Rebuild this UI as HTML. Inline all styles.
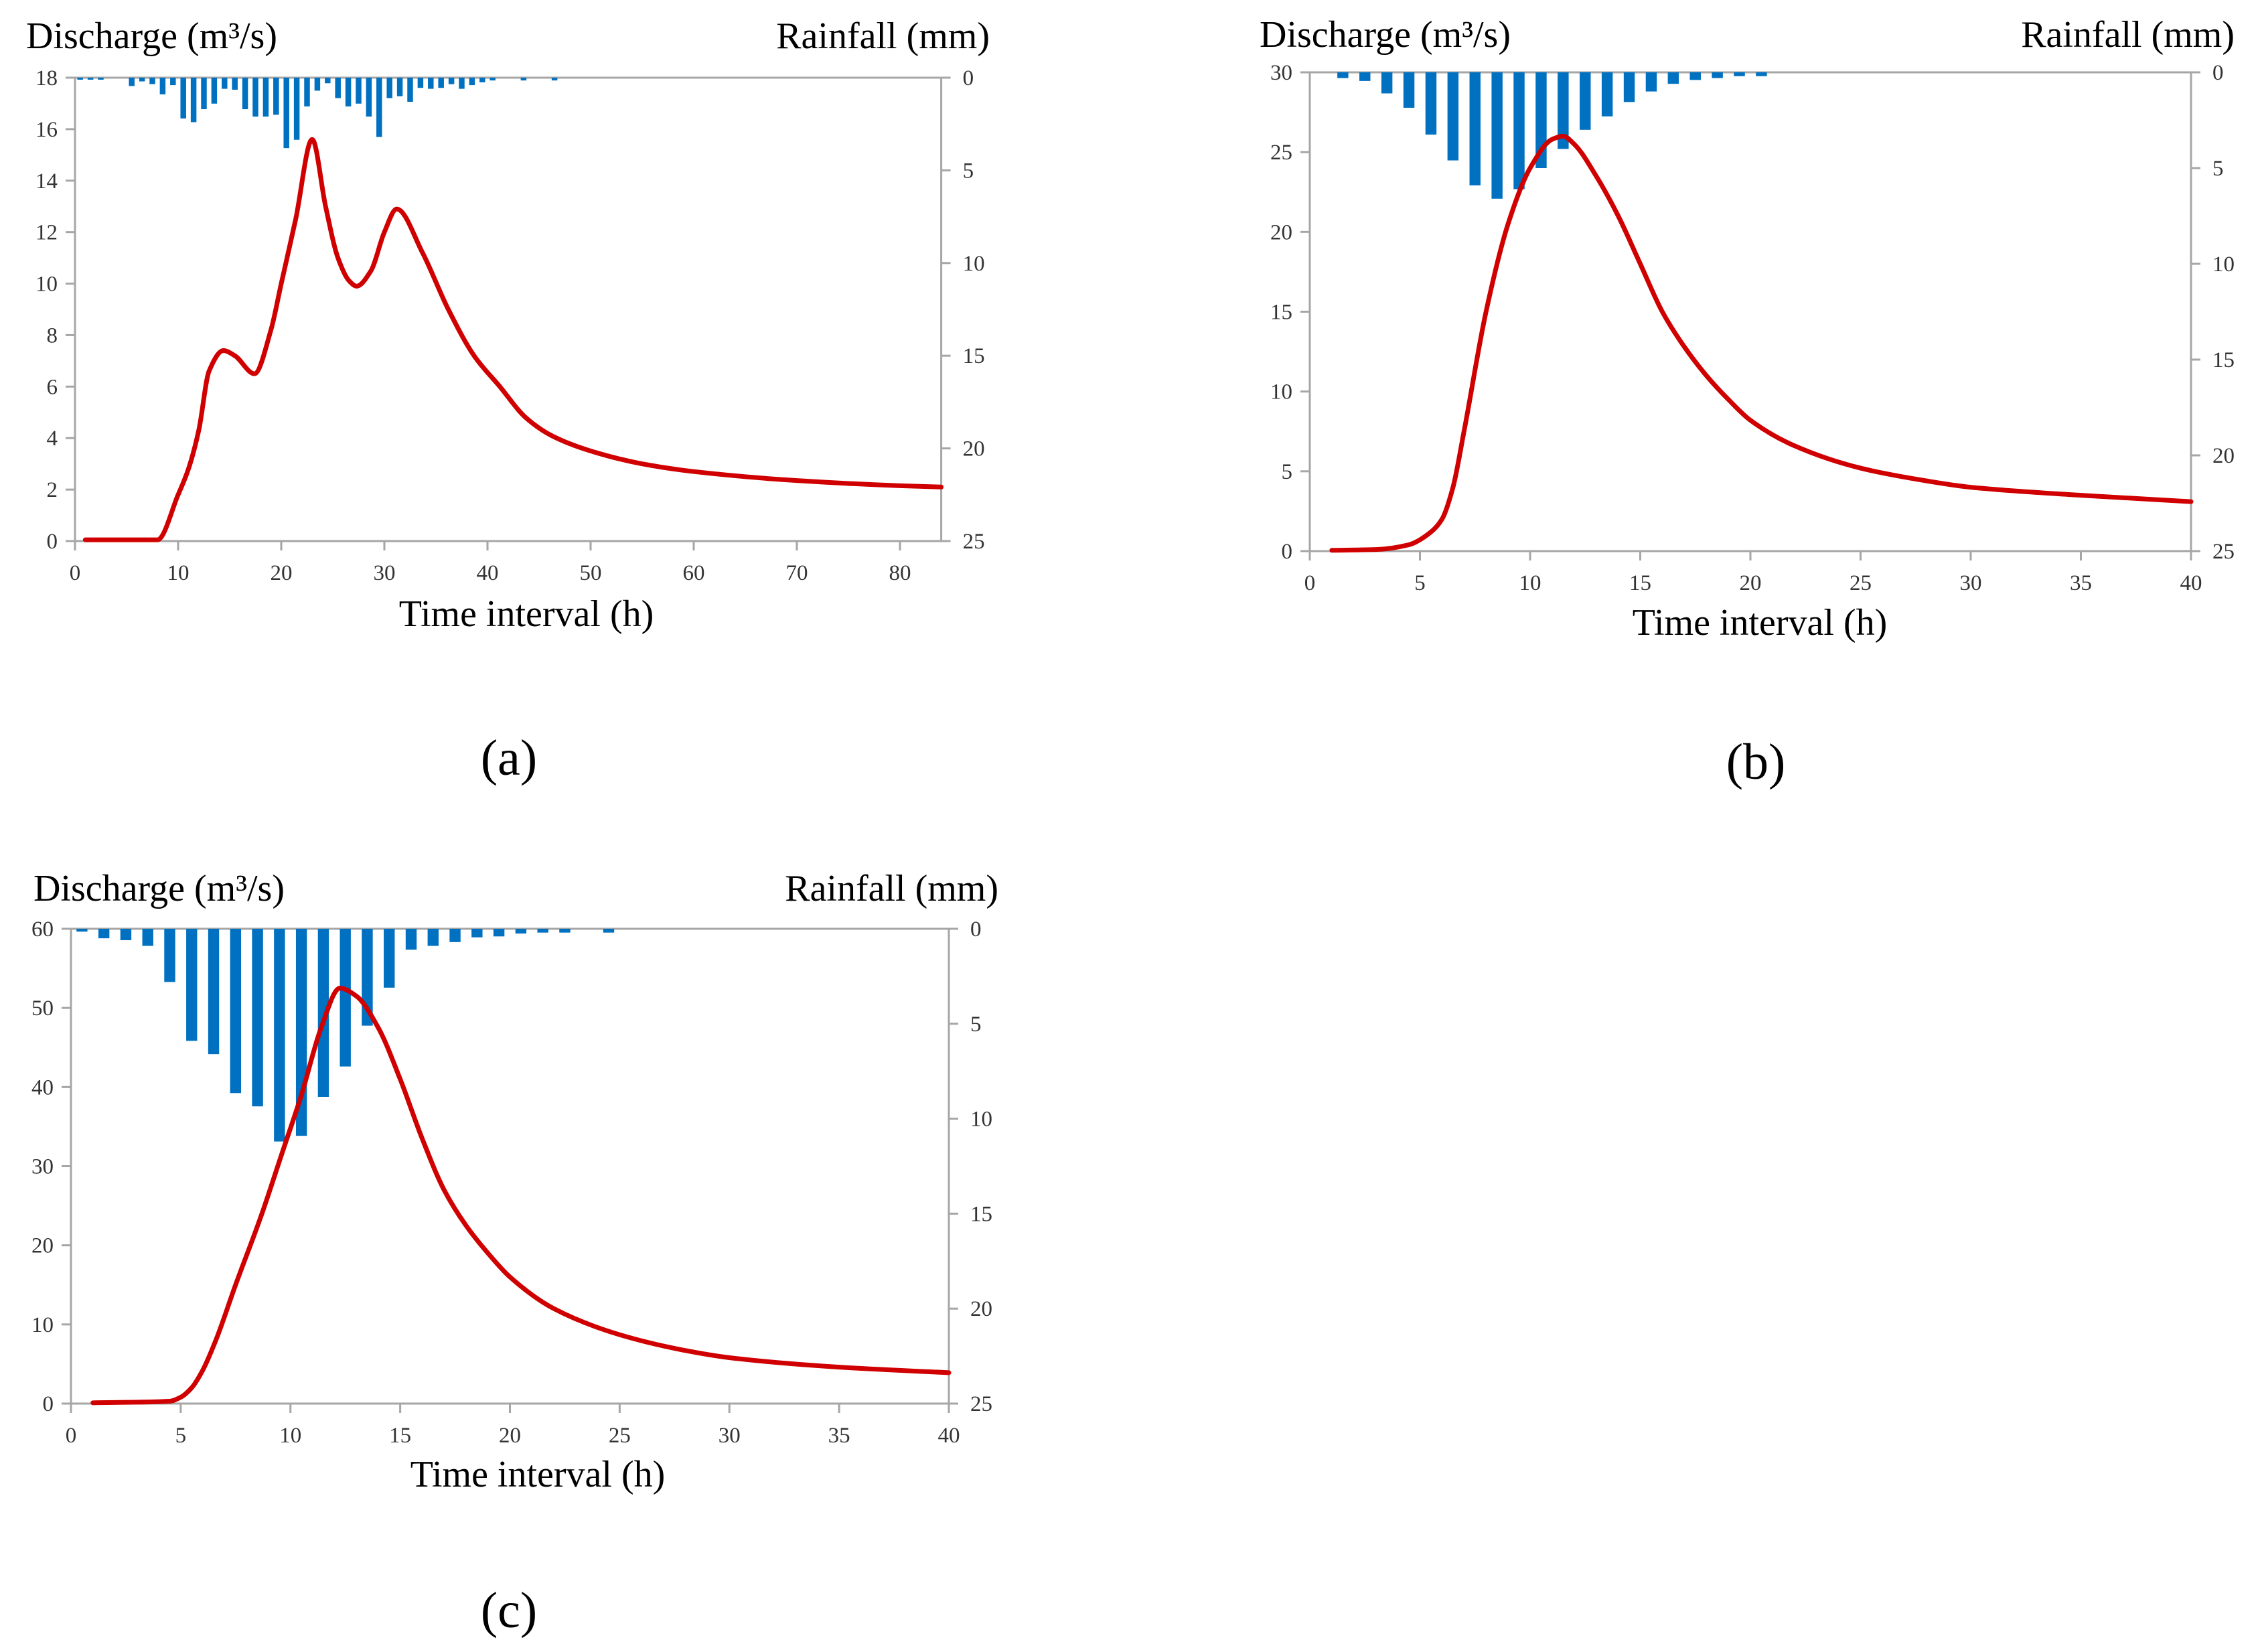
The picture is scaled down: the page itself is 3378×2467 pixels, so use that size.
<!DOCTYPE html>
<html><head><meta charset="utf-8"><style>
html,body{margin:0;padding:0;background:#fff;}
svg{display:block;}
text{font-family:"Liberation Serif",serif;}
</style></head><body>
<svg id="s" width="3378" height="2467" viewBox="0 0 3378 2467" xmlns="http://www.w3.org/2000/svg"></svg>
<script>
// Panel (a) data
const aRainX=[0.5,1.5,2.5,5.5,6.5,7.5,8.5,9.5,10.5,11.5,12.5,13.5,14.5,15.5,16.5,17.5,18.5,19.5,20.5,21.5,22.5,23.5,24.5,25.5,26.5,27.5,28.5,29.5,30.5,31.5,32.5,33.5,34.5,35.5,36.5,37.5,38.5,39.5,40.5,43.5,46.5];
const aRain=[0.1,0.1,0.1,0.45,0.2,0.35,0.9,0.4,2.2,2.4,1.7,1.4,0.6,0.65,1.7,2.1,2.1,2.0,3.8,3.35,1.55,0.7,0.3,1.1,1.55,1.4,2.1,3.2,1.1,1.0,1.3,0.55,0.6,0.55,0.35,0.6,0.4,0.25,0.15,0.15,0.15];
const aQx=[1,8,10,11,12,13,14.4,15.5,17.4,19,20,21.4,23,24.3,25.5,26.6,27.3,28.7,30,31.2,33.7,36.2,38.7,41.2,43.7,46.2,50,55,60,70,80,84];
const aQ=[0.05,0.05,1.8,2.8,4.3,6.6,7.4,7.2,6.5,8.2,10,12.5,15.6,13,11,10.1,9.9,10.5,12,12.9,11.2,9.0,7.2,6.0,4.8,4.1,3.5,3.0,2.7,2.35,2.15,2.1];
const aXTicks=[0,10,20,30,40,50,60,70,80];
const aYTicks=[0,2,4,6,8,10,12,14,16,18];
// Panel (b) data
const bRainX=[1.5,2.5,3.5,4.5,5.5,6.5,7.5,8.5,9.5,10.5,11.5,12.5,13.5,14.5,15.5,16.5,17.5,18.5,19.5,20.5];
const bRain=[0.3,0.45,1.1,1.85,3.25,4.6,5.9,6.6,6.1,5.0,4.0,3.0,2.3,1.55,1.0,0.6,0.4,0.3,0.2,0.2];
const bQx=[1,3,4.5,5.5,6,6.5,7,8,9,10,11,11.5,12,13,14,15,16,17,18,19,20,22,25,28,30,35,40];
const bQ=[0.05,0.1,0.4,1.2,2,4,7.5,15,20.5,24,25.8,26,25.5,23.5,21,18,15,12.8,11,9.5,8.2,6.6,5.2,4.4,4.0,3.5,3.1];
const bXTicks=[0,5,10,15,20,25,30,35,40];
const bYTicks=[0,5,10,15,20,25,30];
// Panel (c) data
const cRainX=[0.5,1.5,2.5,3.5,4.5,5.5,6.5,7.5,8.5,9.5,10.5,11.5,12.5,13.5,14.5,15.5,16.5,17.5,18.5,19.5,20.5,21.5,22.5,24.5];
const cRain=[0.15,0.5,0.6,0.9,2.8,5.9,6.6,8.65,9.35,11.2,10.9,8.85,7.25,5.1,3.1,1.1,0.9,0.7,0.45,0.4,0.25,0.2,0.2,0.2];
const cQx=[1,4.5,5,5.5,6,6.6,7.5,8.7,9.6,10.5,11.4,12.25,13,14,15,16,17,18,19,20,22,25,28,30,35,40];
const cQ=[0.1,0.3,0.8,2,4.2,8,15,24,31.5,39,47.5,52.5,51.5,47.5,41,33.5,27,22.5,19,16,12,8.7,6.7,5.8,4.6,3.9];
const cXTicks=[0,5,10,15,20,25,30,35,40];
const cYTicks=[0,10,20,30,40,50,60];
const rTicks=[0,5,10,15,20,25];

const svg=document.getElementById('s');
const NS='http://www.w3.org/2000/svg';
function mk(tag,attrs,parent){const e=document.createElementNS(NS,tag);for(const k in attrs)e.setAttribute(k,attrs[k]);(parent||svg).appendChild(e);return e;}
function txt(str,x,y,size,anchor,parent,fill){const t=mk('text',{x:x,y:y,'font-size':size,'text-anchor':anchor,fill:fill||'#000'},parent);t.textContent=str;return t;}

// monotone cubic (Fritsch-Carlson) path in pixel space
function monoPath(P){
  const n=P.length,dx=[],m=[],s=[];
  for(let i=0;i<n-1;i++){dx[i]=P[i+1][0]-P[i][0];s[i]=(P[i+1][1]-P[i][1])/dx[i];}
  m[0]=s[0];m[n-1]=s[n-2];
  for(let i=1;i<n-1;i++){
    if(s[i-1]*s[i]<=0)m[i]=0;
    else{const w1=2*dx[i]+dx[i-1],w2=dx[i]+2*dx[i-1];m[i]=(w1+w2)/(w1/s[i-1]+w2/s[i]);}
  }
  let d='M'+P[0][0]+','+P[0][1];
  for(let i=0;i<n-1;i++){
    const h=dx[i]/3;
    d+=' C'+(P[i][0]+h)+','+(P[i][1]+m[i]*h)+' '+(P[i+1][0]-h)+','+(P[i+1][1]-m[i+1]*h)+' '+P[i+1][0]+','+P[i+1][1];
  }
  return d;
}

function panel(id,cfg){
  const g=mk('g',{});
  
  
  const {x0,x1,xmaxTick,xEnd,top,bot,ymax,rmax}=cfg;
  const sx=v=>x0+(x1-x0)*v/xmaxTick;
  const sy=v=>bot-(bot-top)*v/ymax;
  const sr=v=>top+(bot-top)*v/rmax;
  const right=sx(xEnd);
  const ax={stroke:'#a6a6a6','stroke-width':3,fill:'none'};
  let e=mk('line',Object.assign({x1:x0,y1:top,x2:right,y2:top},ax),g);
  
  e=mk('line',Object.assign({x1:x0,y1:bot,x2:right,y2:bot},ax),g);
  
  e=mk('line',Object.assign({x1:x0,y1:top,x2:x0,y2:bot},ax),g);
  
  e=mk('line',Object.assign({x1:right,y1:top,x2:right,y2:bot},ax),g);
  
  cfg.xt.forEach(v=>{mk('line',Object.assign({x1:sx(v),y1:bot,x2:sx(v),y2:bot+14},ax),g);
    const t=txt(String(v),sx(v),bot+58,33,'middle',g,'#333');
    });
  cfg.yt.forEach(v=>{mk('line',Object.assign({x1:x0-14,y1:sy(v),x2:x0,y2:sy(v)},ax),g);
    const t=txt(String(v),x0-26,sy(v)+11,33,'end',g,'#333');
    });
  rTicks.forEach(v=>{mk('line',Object.assign({x1:right,y1:sr(v),x2:right+14,y2:sr(v)},ax),g);
    const t=txt(String(v),right+32,sr(v)+11,33,'start',g,'#333');
    });
  const bw=(x1-x0)/xmaxTick*cfg.bw;
  cfg.rx.forEach((xv,i)=>{
    const r=mk('rect',{x:sx(xv)-bw/2,y:top,width:bw,height:Math.max(sr(cfg.r[i])-top,3),fill:'#0070c0'},g);
    
    
  });
  const P=cfg.qx.map((xv,i)=>[sx(xv),sy(cfg.q[i])]);
  const pth=mk('path',{d:monoPath(P),stroke:'#d00000','stroke-width':7,fill:'none','stroke-linejoin':'round','stroke-linecap':'round'},g);
  
  
  let t=txt('Discharge (m³/s)',cfg.dL[0],cfg.dL[1],56,'start',g);
  
  t=txt('Rainfall (mm)',cfg.rT[0],cfg.rT[1],56,'end',g);
  
  t=txt('Time interval (h)',cfg.xT[0],cfg.xT[1],56,'middle',g);
  
  t=txt('('+id+')',cfg.lab[0],cfg.lab[1],76,'middle',g);
  
}

panel('a',{x0:112,x1:1344,xmaxTick:80,xEnd:84,top:116,bot:808,ymax:18,rmax:25,bw:0.55,
  xt:aXTicks,yt:aYTicks,rx:aRainX,r:aRain,qx:aQx,q:aQ,
  dL:[39,72],rT:[1478,72],xT:[786,935],lab:[760,1157]});
panel('b',{x0:1956,x1:3272,xmaxTick:40,xEnd:40,top:108,bot:823,ymax:30,rmax:25,bw:0.5,
  xt:bXTicks,yt:bYTicks,rx:bRainX,r:bRain,qx:bQx,q:bQ,
  dL:[1881,70],rT:[3337,70],xT:[2628,948],lab:[2622,1163]});
panel('c',{x0:106,x1:1417,xmaxTick:40,xEnd:40,top:1387,bot:2096,ymax:60,rmax:25,bw:0.5,
  xt:cXTicks,yt:cYTicks,rx:cRainX,r:cRain,qx:cQx,q:cQ,
  dL:[50,1345],rT:[1491,1345],xT:[803,2220],lab:[760,2430]});
</script>
</body></html>
